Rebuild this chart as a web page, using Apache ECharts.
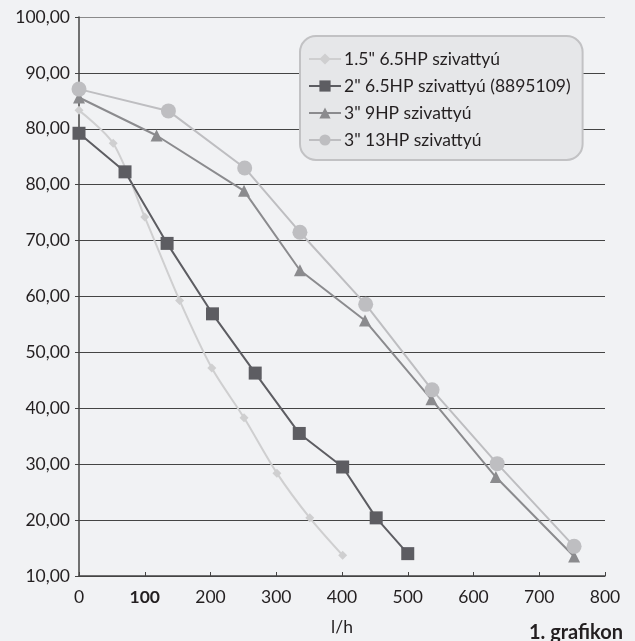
<!DOCTYPE html>
<html>
<head>
<meta charset="utf-8">
<script src="https://cdn.jsdelivr.net/npm/echarts@6/dist/echarts.min.js"></script>
<style>
  html, body { margin: 0; padding: 0; background: #f1f2f4; }
  #chart { width: 635px; height: 641px; }
</style>
</head>
<body>
<div id="chart"></div>
<script>
// adatok (y: a tengely helyzete, a feliratok külön tömbben)
var seriesNames = ['1.5" 6.5HP szivattyú', '2" 6.5HP szivattyú (8895109)', '3" 9HP szivattyú', '3" 13HP szivattyú'];
var pump15 = [[0, 93.3], [52, 87.4], [100, 74.2], [153, 59.3], [202, 47.2], [251, 38.3], [301, 28.4], [351, 20.4], [401, 13.7]];
var pump2 = [[0, 89.2], [70, 82.3], [134, 69.5], [203, 56.9], [268, 46.3], [335, 35.5], [401, 29.5], [452, 20.4], [500, 14.0]];
var pump3_9 = [[0, 95.6], [118, 88.8], [251, 78.9], [336, 64.7], [435, 55.7], [536, 41.6], [634, 27.7], [753, 13.5]];
var pump3_13 = [[0, 97.1], [136, 93.2], [252, 83.0], [336, 71.5], [436, 58.6], [537, 43.3], [636, 30.1], [753, 15.3]];
var yTickLabels = ['10,00', '20,00', '30,00', '40,00', '50,00', '60,00', '70,00', '80,00', '80,00', '90,00', '100,00'];
var xTickLabels = ['0', '100', '200', '300', '400', '500', '600', '700', '800'];

var FONT = 'Lato';
var chart = echarts.init(document.getElementById('chart'));

function lineSeries(name, data, symbol, size, color, smooth) {
	return {
		name: name,
		type: 'line',
		data: data,
		symbol: symbol,
		symbolSize: size,
		smooth: smooth,
		itemStyle: { color: color },
		lineStyle: { color: color, width: 2 },
		emphasis: { disabled: true }
	};
}

var option = {
	backgroundColor: '#f1f2f4',
	animation: false,
	grid: { left: 79, right: 30, top: 17, bottom: 65, outerBoundsMode: 'none' },
	title: {
		text: '1. grafikon',
		right: 12,
		top: 623,
		padding: 0,
		textStyle: { fontFamily: FONT, fontSize: 20, fontWeight: 'bold', color: '#231f20' }
	},
	legend: {
		orient: 'vertical',
		left: 300,
		top: 36,
		width: 287,
		padding: [14, 12, 11, 8],
		itemWidth: 32,
		itemHeight: 14,
		itemGap: 9,
		backgroundColor: '#e6e7e9',
		borderColor: '#c2c2c4',
		borderWidth: 2,
		borderRadius: 16,
		textStyle: { fontFamily: FONT, fontSize: 17.5, color: '#231f20', lineHeight: 16, padding: [0, 0, 0, -2] },
		data: seriesNames
	},
	xAxis: {
		type: 'value',
		min: 0,
		max: 800,
		interval: 100,
		name: 'l/h',
		nameLocation: 'middle',
		nameGap: 42,
		nameTextStyle: { fontFamily: FONT, fontSize: 17.5, color: '#231f20' },
		axisLine: { lineStyle: { color: '#444', width: 1.5 } },
		axisTick: { show: true, inside: true, length: 4, lineStyle: { color: '#444' } },
		splitLine: { show: false },
		axisLabel: {
			fontFamily: FONT,
			fontSize: 17.5,
			color: '#231f20',
			margin: 12,
			formatter: function (v) {
				var s = xTickLabels[v / 100];
				return v === 100 ? '{b|' + s + '}' : s;
			},
			rich: { b: { fontFamily: FONT, fontSize: 17.5, fontWeight: 'bold', color: '#231f20' } }
		}
	},
	yAxis: {
		type: 'value',
		min: 10,
		max: 110,
		interval: 10,
		axisLine: { show: true, lineStyle: { color: '#444', width: 1.5 } },
		axisTick: { show: true, length: 4, lineStyle: { color: '#444' } },
		splitLine: {
			lineStyle: {
				color: ['#444', '#444', '#444', '#444', '#444', '#444', '#444', '#444', '#444', '#444', '#8a8a8a'],
				width: 1
			}
		},
		axisLabel: {
			fontFamily: FONT,
			fontSize: 17.5,
			color: '#231f20',
			margin: 9,
			formatter: function (v) { return yTickLabels[Math.round((v - 10) / 10)]; }
		}
	},
	series: [
		lineSeries(seriesNames[0], pump15, 'diamond', 9, '#cfcfd0', 0.3),
		lineSeries(seriesNames[1], pump2, 'rect', 13, '#5d5d62', false),
		lineSeries(seriesNames[2], pump3_9, 'triangle', 12, '#8b8b8e', false),
		lineSeries(seriesNames[3], pump3_13, 'circle', 15, '#bebec1', false)
	]
};
chart.setOption(option);
</script>
</body>
</html>
